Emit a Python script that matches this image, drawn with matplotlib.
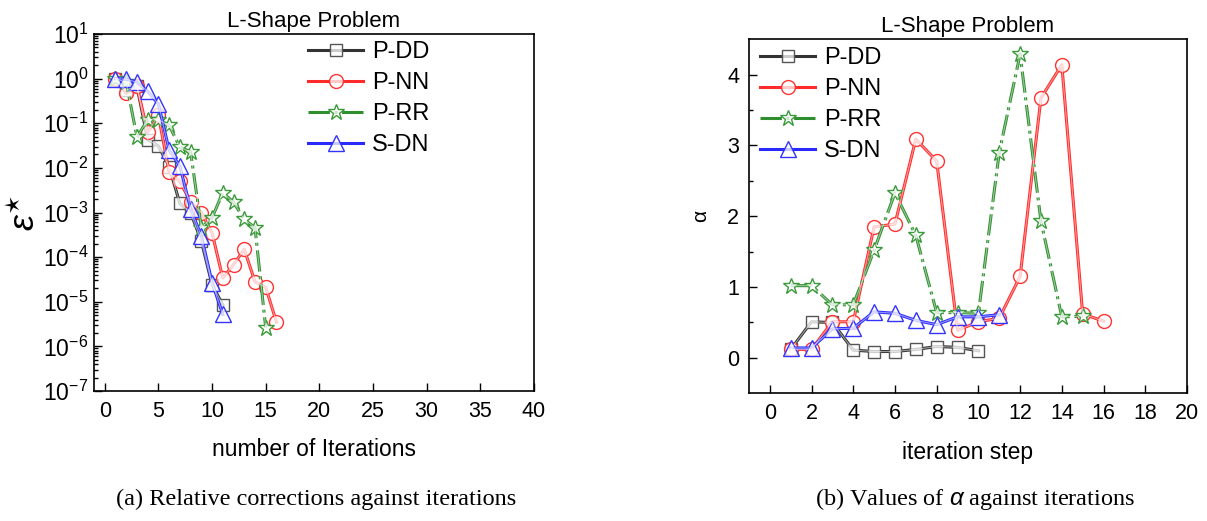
import matplotlib
matplotlib.use("Agg")
import matplotlib.pyplot as plt
from matplotlib.ticker import FixedLocator, LogLocator, MultipleLocator, NullFormatter, FuncFormatter
import numpy as np

plt.rcParams["font.family"] = ["Liberation Sans", "DejaVu Sans"]
plt.rcParams["mathtext.fontset"] = "custom"
plt.rcParams["mathtext.rm"] = "Liberation Sans"
plt.rcParams["mathtext.it"] = "Liberation Sans:italic"

# ---- (a) relative corrections against iterations ----
iters_dd = [1, 2, 3, 4, 5, 6, 7, 8, 9, 10, 11]
eps_dd = [1.0, 0.55, 0.68, 0.043, 0.031, 0.0105, 0.0016, 0.001, 2.3e-4, 2.4e-5, 8.5e-6]

iters_nn = list(range(1, 17))
eps_nn = [1.0, 0.47, 0.68, 0.063, 0.15, 0.008, 0.005, 0.0017, 0.001, 3.5e-4,
          3.4e-5, 6.8e-5, 1.5e-4, 2.8e-5, 2.1e-5, 3.5e-6]

iters_rr = list(range(1, 16))
eps_rr = [1.0, 0.83, 0.049, 0.12, 0.12, 0.09, 0.029, 0.023, 4.6e-4, 7.6e-4,
          0.0028, 0.0017, 7e-4, 4.6e-4, 2.6e-6]

iters_dn = list(range(1, 12))
eps_dn = [1.0, 0.97, 0.83, 0.52, 0.27, 0.025, 0.011, 0.0012, 3e-4, 2.7e-5, 5.2e-6]

# ---- (b) values of alpha against iterations ----
step_dd = list(range(1, 11))
alpha_dd = [0.12, 0.51, 0.5, 0.11, 0.09, 0.09, 0.12, 0.16, 0.15, 0.10]

step_nn = list(range(1, 17))
alpha_nn = [0.12, 0.12, 0.51, 0.51, 1.85, 1.89, 3.09, 2.78, 0.39, 0.51,
            0.56, 1.15, 3.67, 4.14, 0.62, 0.52]

step_rr = list(range(1, 16))
alpha_rr = [1.02, 1.02, 0.75, 0.75, 1.52, 2.33, 1.73, 0.64, 0.64, 0.63,
            2.9, 4.29, 1.93, 0.58, 0.59]

step_dn = list(range(1, 12))
alpha_dn = [0.14, 0.14, 0.41, 0.42, 0.65, 0.63, 0.53, 0.47, 0.58, 0.58, 0.61]

labels = ["P-DD", "P-NN", "P-RR", "S-DN"]
colors = ["#333333", "#ff2a2a", "#2f8f2f", "#2a2aff"]
edge_colors = ["#555555", "#ff3333", "#3a9a3a", "#3333ff"]
markers = ["s", "o", "*", "^"]
msizes = [9, 10, 12, 11]
styles = ["-", "-", (0, (7, 1.5, 1, 1.5)), "-"]


def draw_series(ax, x, y, i):
    ax.plot(x, y, color=colors[i], lw=2.2, ls=styles[i], marker=markers[i],
            ms=msizes[i], mec=edge_colors[i], mew=1.0,
            mfc=(1, 1, 1, 0.75), label=labels[i], zorder=3)
    # glossy highlight stripe like the original software
    ax.plot(x, y, color="white", lw=0.8, alpha=0.5, zorder=4)


def style_axes(ax):
    for s in ax.spines.values():
        s.set_linewidth(1.2)
    ax.tick_params(which="both", direction="in", top=False, right=False,
                   labelsize=15.5, width=1.0, pad=7)
    ax.tick_params(which="major", length=6)
    ax.tick_params(which="minor", length=3)


def add_legend(ax, anchor):
    ax.legend(loc="upper left", bbox_to_anchor=anchor, frameon=False,
              fontsize=17, handlelength=2.35, labelspacing=0.38,
              borderaxespad=0, borderpad=0, handletextpad=0.38)


fig = plt.figure(figsize=(12.07, 5.21), dpi=100)
ax1 = fig.add_axes([0.0779, 0.2495, 0.3645, 0.6852])
ax2 = fig.add_axes([0.6205, 0.2451, 0.3629, 0.6795])

draw_series(ax1, iters_dd, eps_dd, 0)
draw_series(ax1, iters_nn, eps_nn, 1)
draw_series(ax1, iters_rr, eps_rr, 2)
draw_series(ax1, iters_dn, eps_dn, 3)
ax1.set_yscale("log")
ax1.set_ylim(1e-7, 1e1)
ax1.set_xlim(-1, 40)
ax1.xaxis.set_major_locator(MultipleLocator(5))
ax1.yaxis.set_major_locator(LogLocator(base=10, numticks=20))
ax1.yaxis.set_minor_locator(LogLocator(base=10, subs=np.arange(2, 10), numticks=20))
ax1.yaxis.set_minor_formatter(NullFormatter())
ax1.yaxis.set_major_formatter(FuncFormatter(lambda v, p: r"$10^{%d}$" % round(np.log10(v))))
style_axes(ax1)
ax1.tick_params(axis="y", pad=4, labelsize=16.5)
ax1.set_xlabel("number of Iterations", fontsize=16.5, labelpad=12)
ax1.set_ylabel(r"$\epsilon^{\star}$", fontsize=26, labelpad=0)
ax1.set_title("L-Shape Problem", fontsize=16, pad=5)
add_legend(ax1, (0.486, 0.98))

draw_series(ax2, step_dd, alpha_dd, 0)
draw_series(ax2, step_nn, alpha_nn, 1)
draw_series(ax2, step_rr, alpha_rr, 2)
draw_series(ax2, step_dn, alpha_dn, 3)
ax2.set_xlim(-1, 20)
ax2.set_ylim(-0.5, 4.5)
ax2.xaxis.set_major_locator(MultipleLocator(2))
ax2.yaxis.set_major_locator(FixedLocator([0, 1, 2, 3, 4]))
ax2.yaxis.set_minor_locator(FixedLocator([0.5, 1.5, 2.5, 3.5]))
style_axes(ax2)
ax2.set_xlabel("iteration step", fontsize=16.5, labelpad=12)
ax2.set_ylabel("\u03b1", fontsize=15, labelpad=12)
ax2.set_title("L-Shape Problem", fontsize=16, pad=5)
add_legend(ax2, (0.025, 0.978))

fig.text(0.262, 0.03, "(a) Relative corrections against iterations",
         ha="center", fontsize=17.5, family="Liberation Serif")
fig.text(0.808, 0.03, r"(b) Values of $\alpha$ against iterations",
         ha="center", fontsize=17.5, family="Liberation Serif")

fig.savefig("out.png", dpi=100)
